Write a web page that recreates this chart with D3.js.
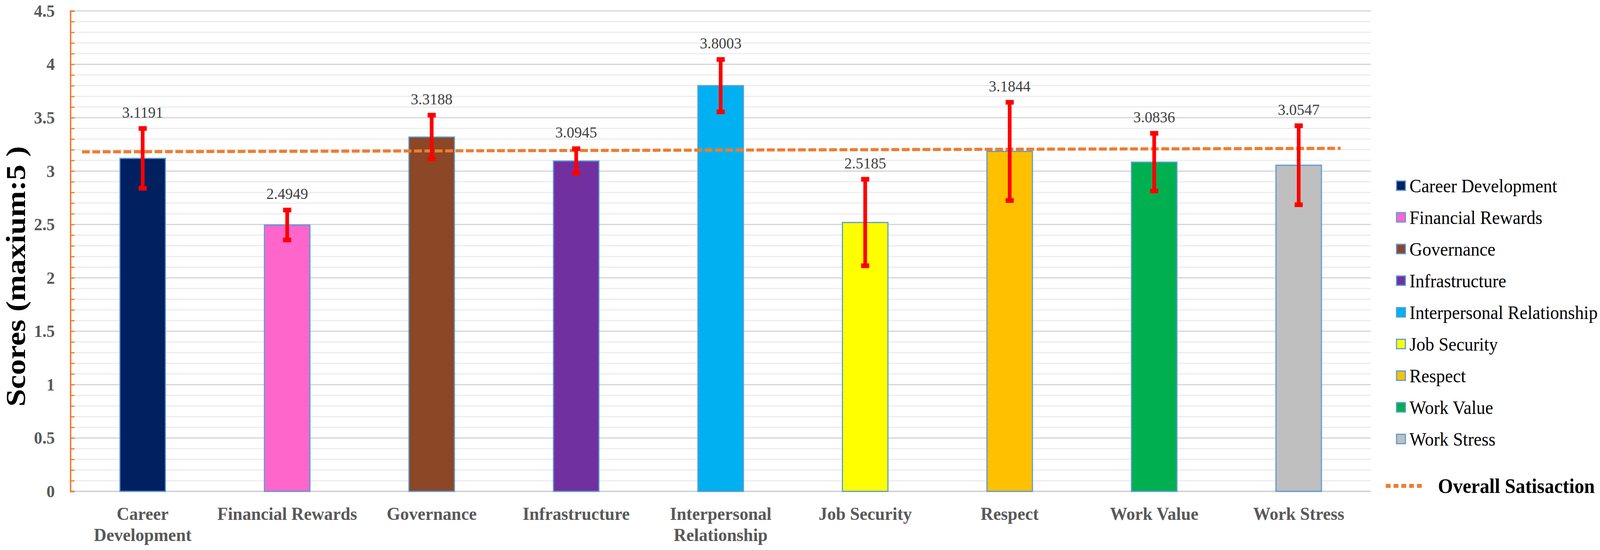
<!DOCTYPE html>
<html>
<head>
<meta charset="utf-8">
<script src="https://cdn.jsdelivr.net/npm/d3@7"></script>
<style>
  html, body { margin: 0; padding: 0; width: 100%; height: 100%; overflow: hidden; background: #ffffff; }
  svg { display: block; }
</style>
</head>
<body>
<svg id="svg" viewBox="0 0 4317 1407" width="100%" height="100%" preserveAspectRatio="none"></svg>
<script>
// chart values
const categories = ["Career Development", "Financial Rewards", "Governance", "Infrastructure",
    "Interpersonal Relationship", "Job Security", "Respect", "Work Value", "Work Stress"];
const axisLabels = [["Career", "Development"], ["Financial Rewards"], ["Governance"], ["Infrastructure"],
    ["Interpersonal", "Relationship"], ["Job Security"], ["Respect"], ["Work Value"], ["Work Stress"]];
const scores = [3.1191, 2.4949, 3.3188, 3.0945, 3.8003, 2.5185, 3.1844, 3.0836, 3.0547];
const errors = [0.28, 0.14, 0.205, 0.115, 0.245, 0.405, 0.46, 0.27, 0.37];
const barColors = ["#002060", "#ff66cc", "#8b4726", "#7030a0", "#00b0f0", "#ffff00", "#ffc000", "#00b050", "#bfbfbf"];
const yTicks = [0, 0.5, 1, 1.5, 2, 2.5, 3, 3.5, 4, 4.5];
const yTickLabels = ["0", "0.5", "1", "1.5", "2", "2.5", "3", "3.5", "4", "4.5"];
const overallIndex = [-0.42, 8.29];
const overallValues = [3.18, 3.213];
const overallName = "Overall Satisaction";

window.onload = function () {

    let svg = d3.select('#svg');
    const serif = '"Liberation Serif", "Times New Roman", serif';

    let left = 190, right = 3699, bottom = 1257, top = 28;

    let x = d3.scaleBand().domain(categories).range([left, right]).padding(0);
    let xi = d3.scaleLinear().domain([-0.5, categories.length - 0.5]).range([left, right]);
    let y = d3.scaleLinear().domain([0, 4.5]).range([bottom, top]);
    let barW = x.bandwidth() * 0.315;

    // grid lines, minor every 0.1 and major every 0.5
    let minor = y.ticks(45);
    svg.append("g").selectAll("line").data(minor).enter().append("line")
        .attr("x1", left).attr("x2", right)
        .attr("y1", d => y(d)).attr("y2", d => y(d))
        .attr("stroke", d => (Math.round(d * 10) % 5 === 0) ? "#d4d4d4" : "#ececec")
        .attr("stroke-width", d => d === 0 ? 4 : 3);

    // y axis: orange line with small ticks, grey labels
    let yAxisTicks = svg.append("g").attr("transform", "translate(" + left + ",0)")
        .call(d3.axisRight(y).tickValues(minor).tickSize(11).tickFormat(""));
    yAxisTicks.select(".domain").attr("stroke", "#ed7d31").attr("stroke-width", 4);
    yAxisTicks.selectAll(".tick line").attr("stroke", "#ed7d31").attr("stroke-width", 3);

    let yAxisLabels = svg.append("g").attr("transform", "translate(" + left + ",0)")
        .call(d3.axisLeft(y).tickValues(yTicks).tickSize(0).tickPadding(42).tickFormat((d, i) => yTickLabels[i]));
    yAxisLabels.select(".domain").remove();
    yAxisLabels.selectAll("text").style("font-family", serif).style("font-size", "45px")
        .style("font-weight", 700).style("fill", "#595959");

    svg.append("text").attr("transform", "translate(67,707) rotate(-90)")
        .attr("text-anchor", "middle").attr("textLength", 666).attr("lengthAdjust", "spacingAndGlyphs")
        .style("font-family", serif).style("font-size", "74px").style("font-weight", 700).style("fill", "#000")
        .text("Scores (maxium:5 )");

    // bars
    svg.append("g").selectAll("rect").data(categories).enter().append("rect")
        .attr("x", d => x(d) + x.bandwidth() / 2 - barW / 2)
        .attr("y", (d, i) => y(scores[i]))
        .attr("width", barW)
        .attr("height", (d, i) => bottom - y(scores[i]))
        .attr("fill", (d, i) => barColors[i])
        .attr("stroke", "#5b9bd5").attr("stroke-width", 3);

    // overall satisfaction dashed line
    let line = d3.line().x(d => xi(d[0])).y(d => y(d[1]));
    svg.append("path").datum(overallIndex.map((d, i) => [d, overallValues[i]]))
        .attr("d", line).attr("fill", "none")
        .attr("stroke", "#ed7d31").attr("stroke-width", 8).attr("stroke-dasharray", "21,7");

    // error bars
    let eb = svg.append("g").selectAll("g").data(categories).enter().append("g")
        .attr("transform", d => "translate(" + (x(d) + x.bandwidth() / 2) + ",0)");
    eb.append("line")
        .attr("x1", 0).attr("x2", 0)
        .attr("y1", (d, i) => y(scores[i] + errors[i]))
        .attr("y2", (d, i) => y(scores[i] - errors[i]))
        .attr("stroke", "#ff0000").attr("stroke-width", 10);
    eb.append("rect").attr("x", -11).attr("width", 22).attr("height", 12)
        .attr("y", (d, i) => y(scores[i] + errors[i]) - 6).attr("fill", "#ff0000");
    eb.append("rect").attr("x", -11).attr("width", 22).attr("height", 12)
        .attr("y", (d, i) => y(scores[i] - errors[i]) - 6).attr("fill", "#ff0000");

    // value labels
    svg.append("g").selectAll("text").data(categories).enter().append("text")
        .attr("x", d => x(d) + x.bandwidth() / 2)
        .attr("y", (d, i) => y(scores[i] + errors[i]) - 28)
        .attr("text-anchor", "middle")
        .style("font-family", serif).style("font-size", "41px").style("fill", "#404040")
        .text((d, i) => scores[i].toFixed(4));

    // category labels
    let xl = svg.append("g").selectAll("text").data(categories).enter().append("text")
        .attr("text-anchor", "middle")
        .style("font-family", serif).style("font-size", "47px").style("font-weight", 700).style("fill", "#595959");
    xl.each(function (d, i) {
        let t = d3.select(this);
        axisLabels[i].forEach((s, k) => {
            t.append("tspan").attr("x", x(d) + x.bandwidth() / 2).attr("y", 1330 + k * 54).text(s);
        });
    });

    // legend
    let lg = svg.append("g").selectAll("g").data(categories).enter().append("g")
        .attr("transform", (d, i) => "translate(3768," + (475 + i * 81) + ")");
    lg.append("rect").attr("x", 0).attr("y", -12).attr("width", 24).attr("height", 24)
        .attr("fill", (d, i) => barColors[i]).attr("stroke", "#5b9bd5").attr("stroke-width", 3);
    lg.append("text").attr("x", 35).attr("dy", "0.35em")
        .style("font-family", serif).style("font-size", "48px").style("fill", "#000")
        .text(d => d);

    svg.append("line").attr("x1", 3739).attr("x2", 3836).attr("y1", 1243).attr("y2", 1243)
        .attr("stroke", "#ed7d31").attr("stroke-width", 10).attr("stroke-dasharray", "13,8");
    svg.append("text").attr("x", 3880).attr("y", 1243).attr("dy", "0.35em")
        .style("font-family", serif).style("font-size", "52px").style("font-weight", 700).style("fill", "#000")
        .text(overallName);
}
</script>
</body>
</html>
